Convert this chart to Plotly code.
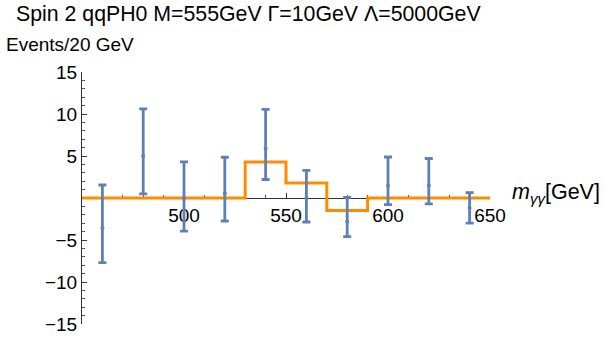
import plotly.graph_objects as go

# Data
mass = [460, 480, 500, 520, 540, 560, 580, 600, 620, 640]
events = [-3.6, 5.0, 0.0, 0.55, 5.9, 0.0, -2.8, 1.45, 1.5, -1.2]
err_up = [5.15, 5.6, 4.3, 4.3, 4.65, 3.3, 2.87, 3.43, 3.2, 1.83]
err_down = [4.1, 4.5, 3.95, 3.29, 3.7, 2.86, 1.8, 2.25, 2.2, 1.8]

bin_edges = [450, 470, 490, 510, 530, 550, 570, 590, 610, 630, 650]
signal = [0, 0, 0, 0, 4.3, 1.8, -1.5, 0, 0, 0]

x_ticks = [500, 550, 600, 650]
y_ticks = [-15, -10, -5, 5, 10, 15]

W, H = 606, 341
L, R, T, B = 82, 116, 72, 17
pw, ph = W - L - R, H - T - B


def px(x):
    return (x - L) / pw


def py(y):
    return (H - B - y) / ph


FONT = "Liberation Sans, Arial, sans-serif"

fig = go.Figure()
fig.add_trace(go.Scatter(
    x=bin_edges, y=signal + [signal[-1]], mode="lines", line_shape="hv",
    line=dict(color="#FF8C00", width=3), showlegend=False, hoverinfo="skip"))
fig.add_trace(go.Scatter(
    x=mass, y=events, mode="markers",
    marker=dict(color="#5E81B5", size=4),
    error_y=dict(type="data", array=err_up, arrayminus=err_down, color="#5E81B5",
                 thickness=2.8, width=4),
    showlegend=False))

axis_font = dict(family=FONT, size=19, color="black")

fig.update_layout(
    width=W, height=H, margin=dict(l=L, r=R, t=T, b=B, autoexpand=False),
    plot_bgcolor="white", paper_bgcolor="white",
    xaxis=dict(range=[450, 650], tickvals=x_ticks, ticks="inside", ticklen=5,
               tickcolor="#333", showline=True, linecolor="#333", linewidth=1,
               anchor="free", position=0.5, showgrid=False, zeroline=False,
               tickfont=axis_font, layer="below traces", ticklabelstandoff=0,
               automargin=False,
               minor=dict(dtick=10, tick0=450, ticks="inside", ticklen=3, tickcolor="#555")),
    yaxis=dict(range=[-15, 15], tickvals=y_ticks, ticks="inside", ticklen=5,
               tickcolor="#333", showline=True, linecolor="#333", linewidth=1,
               showgrid=False, zeroline=False, tickfont=axis_font, layer="below traces",
               automargin=False,
               minor=dict(dtick=1, tick0=0, ticks="inside", ticklen=3, tickcolor="#555")),
    annotations=[
        dict(text="Spin 2 qqPH0 M=555GeV Γ=10GeV Λ=5000GeV", xref="paper", yref="paper",
             x=px(14), y=py(14), xanchor="left", yanchor="middle", showarrow=False,
             font=dict(family=FONT, size=21.3, color="black")),
        dict(text="Events/20 GeV", xref="paper", yref="paper",
             x=px(4), y=py(45), xanchor="left", yanchor="middle", showarrow=False,
             font=dict(family=FONT, size=19, color="black")),
        dict(text="<i>m</i><sub><i>γγ</i></sub>[GeV]", xref="paper", yref="paper",
             x=px(510), y=py(193), xanchor="left", yanchor="middle", showarrow=False,
             font=dict(family=FONT, size=21.5, color="black")),
    ],
)

fig.write_html("out.html")
